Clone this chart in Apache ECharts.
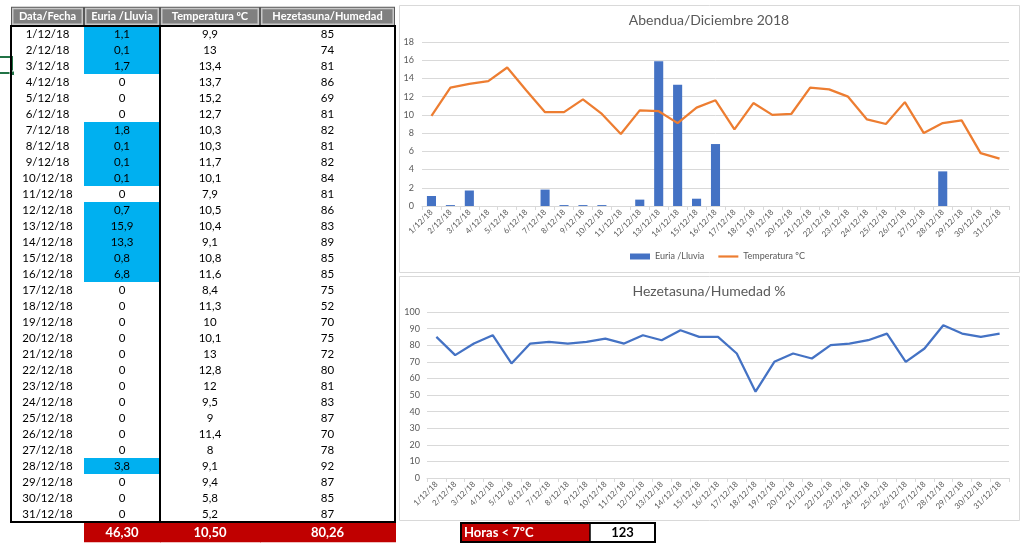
<!DOCTYPE html>
<html>
<head>
<meta charset="utf-8">
<script src="https://cdn.jsdelivr.net/npm/echarts@6/dist/echarts.min.js"></script>
<style>
html,body{margin:0;padding:0;background:#fff;}
#main{width:1029px;height:545px;}
</style>
</head>
<body>
<div id="main"></div>
<script>
// ---------- data ----------
const dates = ['1/12/18','2/12/18','3/12/18','4/12/18','5/12/18','6/12/18','7/12/18','8/12/18','9/12/18','10/12/18',
  '11/12/18','12/12/18','13/12/18','14/12/18','15/12/18','16/12/18','17/12/18','18/12/18','19/12/18','20/12/18',
  '21/12/18','22/12/18','23/12/18','24/12/18','25/12/18','26/12/18','27/12/18','28/12/18','29/12/18','30/12/18','31/12/18'];
const rain = [1.1,0.1,1.7,0,0,0,1.8,0.1,0.1,0.1,0,0.7,15.9,13.3,0.8,6.8,0,0,0,0,0,0,0,0,0,0,0,3.8,0,0,0];
const temperature = [9.9,13,13.4,13.7,15.2,12.7,10.3,10.3,11.7,10.1,7.9,10.5,10.4,9.1,10.8,11.6,8.4,11.3,10,10.1,13,12.8,12,9.5,9,11.4,8,9.1,9.4,5.8,5.2];
const humidity = [85,74,81,86,69,81,82,81,82,84,81,86,83,89,85,85,75,52,70,75,72,80,81,83,87,70,78,92,87,85,87];
const headers = ['Data/Fecha','Euria /Lluvia','Temperatura ºC','Hezetasuna/Humedad'];
const totals = [46.30, 10.50, 80.26];
const hoursBelow7Label = 'Horas < 7ºC';
const hoursBelow7 = 123;
const titleTop = 'Abendua/Diciembre 2018';
const titleBottom = 'Hezetasuna/Humedad %';
const seriesNames = ['Euria /Lluvia','Temperatura ºC'];

// ---------- layout ----------
const colEdges = [0, 73, 149, 249, 384];
const FONT = 'Lato, "Liberation Sans", sans-serif';
const fmt = v => String(v).replace('.', ',');
const fmt2 = v => v.toFixed(2).replace('.', ',');

const cells = [];
headers.forEach((h, j) => cells.push({kind:'head', col:j, row:-1, text:h}));
dates.forEach((d, i) => {
  cells.push({kind:'body', col:0, row:i, text:d});
  cells.push({kind:'body', col:1, row:i, text:fmt(rain[i]), fill: rain[i] > 0 ? '#00B0F0' : '#fff'});
  cells.push({kind:'body', col:2, row:i, text:fmt(temperature[i])});
  cells.push({kind:'body', col:3, row:i, text:fmt(humidity[i])});
});
totals.forEach((t, j) => cells.push({kind:'total', col:j+1, row:31, text:fmt2(t)}));
cells.push({kind:'frame', col:0, row:0});

function renderCell(params, api) {
  const c = cells[params.dataIndex];
  if (c.kind === 'frame') {
    const a = api.coord([colEdges[0], 0]);
    const b = api.coord([colEdges[4], dates.length]);
    const m = api.coord([colEdges[2], 0]);
    return {type:'group', children:[
      {type:'rect', shape:{x:a[0], y:a[1], width:b[0]-a[0], height:b[1]-a[1]}, style:{fill:null, stroke:'#000', lineWidth:2}},
      {type:'line', shape:{x1:m[0], y1:a[1], x2:m[0], y2:b[1]}, style:{stroke:'#000', lineWidth:2}}
    ]};
  }
  const y0 = c.kind === 'head' ? -1.2 : c.kind === 'total' ? 31 : c.row;
  const y1 = c.kind === 'head' ? 0 : c.kind === 'total' ? 32.2 : c.row + 1;
  const p0 = api.coord([colEdges[c.col], y0]);
  const p1 = api.coord([colEdges[c.col+1], y1]);
  const x = p0[0], y = p0[1], w = p1[0]-p0[0], h = p1[1]-p0[1];
  const cx = x + w/2, cy = y + h/2;
  const children = [];
  if (c.kind === 'head') {
    children.push({type:'rect', shape:{x:x, y:y, width:w, height:h}, style:{fill:'#595959'}});
    children.push({type:'rect', shape:{x:x+1, y:y+1, width:w-2, height:h-2}, style:{fill:'#c8c8c8'}});
    children.push({type:'rect', shape:{x:x+2.5, y:y+2.5, width:w-5, height:h-5}, style:{fill:'#808080'}});
    children.push({type:'text', style:{x:cx, y:cy+0.5, text:c.text, fill:'#fff', font:'bold 11px ' + FONT, align:'center', verticalAlign:'middle'}});
  } else if (c.kind === 'total') {
    children.push({type:'rect', shape:{x:x, y:y+1, width:w+1, height:h}, style:{fill:'#C00000'}});
    children.push({type:'text', style:{x:cx, y:cy+1, text:c.text, fill:'#fff', font:'bold 13px ' + FONT, align:'center', verticalAlign:'middle'}});
  } else {
    if (c.fill && c.fill !== '#fff') {
      children.push({type:'rect', shape:{x:x, y:y, width:w, height:h}, style:{fill:c.fill}});
    }
    children.push({type:'text', style:{x:cx, y:cy+0.5, text:c.text, fill:'#000', font:'11.5px ' + FONT, align:'center', verticalAlign:'middle'}});
  }
  return {type:'group', children};
}

const axisLabelStyle = {color:'#595959', fontFamily:FONT};

const chart = echarts.init(document.getElementById('main'), null, {renderer:'canvas'});
chart.setOption({
  animation:false,
  backgroundColor:'#fff',
  textStyle:{fontFamily:FONT},
  title:[
    {text:titleTop, left:709, top:13, textAlign:'center', padding:0,
     textStyle:{fontSize:14, fontWeight:'normal', color:'#595959', fontFamily:FONT}},
    {text:titleBottom, left:709, top:284, textAlign:'center', padding:0,
     textStyle:{fontSize:14, fontWeight:'normal', color:'#595959', fontFamily:FONT}}
  ],
  legend:{
    left:630, top:252, itemWidth:20, itemHeight:6, itemGap:14, padding:0,
    symbolKeepAspect:true,
    textStyle:{fontSize:9, color:'#595959', fontFamily:FONT},
    data:[{name:seriesNames[0], icon:'rect'}, {name:seriesNames[1], icon:'path://M0,0H20V2.2H0Z'}]
  },
  grid:[
    {left:11, top:6.8, width:384, height:534.4, outerBoundsMode:'none'},
    {left:422, right:20, top:42, height:164, outerBoundsMode:'none'},
    {left:427, right:20, top:312, height:166, outerBoundsMode:'none'}
  ],
  xAxis:[
    {gridIndex:0, type:'value', min:0, max:384, show:false},
    {gridIndex:1, type:'category', data:dates, boundaryGap:true,
     axisLine:{lineStyle:{color:'#d9d9d9'}},
     axisTick:{show:true, length:4, lineStyle:{color:'#d9d9d9'}},
     axisLabel:Object.assign({rotate:45, interval:0, fontSize:8, margin:5}, axisLabelStyle)},
    {gridIndex:2, type:'category', data:dates, boundaryGap:true,
     axisLine:{lineStyle:{color:'#d9d9d9'}},
     axisTick:{show:true, length:4, lineStyle:{color:'#d9d9d9'}},
     axisLabel:Object.assign({rotate:45, interval:0, fontSize:8, margin:5}, axisLabelStyle)}
  ],
  yAxis:[
    {gridIndex:0, type:'value', min:-1.2, max:32.2, inverse:true, show:false},
    {gridIndex:1, type:'value', min:0, max:18, interval:2,
     axisLine:{show:false}, axisTick:{show:false},
     splitLine:{lineStyle:{color:'#d9d9d9'}},
     axisLabel:Object.assign({fontSize:9, margin:8}, axisLabelStyle)},
    {gridIndex:2, type:'value', min:0, max:100, interval:10,
     axisLine:{show:false}, axisTick:{show:false},
     splitLine:{lineStyle:{color:'#d9d9d9'}},
     axisLabel:Object.assign({fontSize:9, margin:7}, axisLabelStyle)}
  ],
  series:[
    {type:'custom', xAxisIndex:0, yAxisIndex:0, clip:false, silent:true,
     data:cells.map(c => [c.col, c.row]), renderItem:renderCell},
    {name:seriesNames[0], type:'bar', xAxisIndex:1, yAxisIndex:1, data:rain,
     barWidth:'48%', itemStyle:{color:'#4472C4'}},
    {name:seriesNames[1], type:'line', xAxisIndex:1, yAxisIndex:1, data:temperature,
     symbol:'none', lineStyle:{color:'#ED7D31', width:2.25}, itemStyle:{color:'#ED7D31'}},
    {name:'Hezetasuna/Humedad', type:'line', xAxisIndex:2, yAxisIndex:2, data:humidity,
     symbol:'none', lineStyle:{color:'#4472C4', width:2.25}, itemStyle:{color:'#4472C4'}}
  ],
  graphic:[
    {type:'rect', shape:{x:399.5, y:5.5, width:620, height:267}, style:{fill:null, stroke:'#d9d9d9', lineWidth:1}, z:-1},
    {type:'rect', shape:{x:399.5, y:276.5, width:620, height:244}, style:{fill:null, stroke:'#d9d9d9', lineWidth:1}, z:-1},
    {type:'polyline', shape:{points:[[0,57],[12,57],[12,73],[0,73]]}, style:{fill:null, stroke:'#217346', lineWidth:2}},
    {type:'rect', shape:{x:10, y:71, width:4.5, height:4.5}, style:{fill:'#217346', stroke:'#fff', lineWidth:1}},
    {type:'rect', shape:{x:461, y:523, width:129, height:19}, style:{fill:'#C00000'}},
    {type:'rect', shape:{x:590, y:523, width:65, height:19}, style:{fill:'#fff'}},
    {type:'rect', shape:{x:461, y:523, width:194, height:19}, style:{fill:null, stroke:'#000', lineWidth:2}},
    {type:'line', shape:{x1:590, y1:523, x2:590, y2:542}, style:{stroke:'#000', lineWidth:1.5}},
    {type:'text', style:{x:464, y:533, text:hoursBelow7Label, fill:'#fff', font:'bold 13px ' + FONT, align:'left', verticalAlign:'middle'}},
    {type:'text', style:{x:622.5, y:533, text:String(hoursBelow7), fill:'#000', font:'bold 13px ' + FONT, align:'center', verticalAlign:'middle'}}
  ]
});
</script>
</body>
</html>
